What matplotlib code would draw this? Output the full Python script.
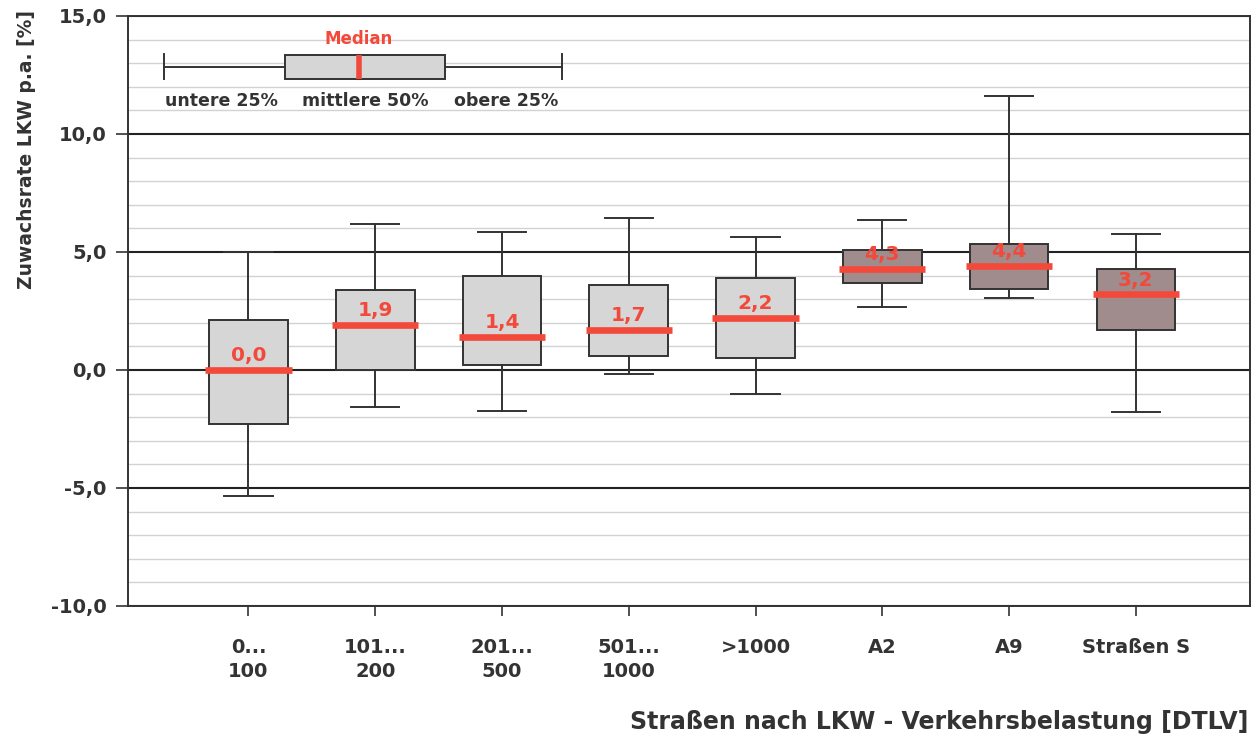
import matplotlib
matplotlib.use("Agg")
import matplotlib.pyplot as plt
from matplotlib.ticker import MultipleLocator

plt.rcParams['font.family'] = ['DejaVu Sans']
plt.rcParams['font.weight'] = 'bold'

# Data
categories = ['0...\n100', '101...\n200', '201...\n500', '501...\n1000', '>1000', 'A2', 'A9', 'Straßen S']
medians = [0.0, 1.9, 1.4, 1.7, 2.2, 4.3, 4.4, 3.2]
median_labels = ['0,0', '1,9', '1,4', '1,7', '2,2', '4,3', '4,4', '3,2']
q1 = [-2.3, 0.0, 0.2, 0.6, 0.5, 3.7, 3.45, 1.7]
q3 = [2.1, 3.4, 4.0, 3.6, 3.9, 5.1, 5.35, 4.3]
whis_lo = [-5.35, -1.55, -1.75, -0.15, -1.0, 2.65, 3.05, -1.8]
whis_hi = [5.0, 6.2, 5.85, 6.45, 5.65, 6.35, 11.6, 5.75]
dark_group = [False, False, False, False, False, True, True, True]

yticks = [-10, -5, 0, 5, 10, 15]
ytick_labels = ['-10,0', '-5,0', '0,0', '5,0', '10,0', '15,0']

# legend example box (percent of the range)
legend_stats = dict(whislo=0, q1=30.4, med=49.0, q3=70.6, whishi=100)

light = '#d6d6d6'
dark = '#a08c8c'
red = '#f2493a'
ink = '#333333'

fig = plt.figure(figsize=(12.58, 7.43), dpi=100)
ax = fig.add_axes([128 / 1258, 1 - 606 / 743, 1122 / 1258, 590 / 743])

stats = []
for i in range(len(categories)):
    stats.append(dict(med=medians[i], q1=q1[i], q3=q3[i],
                      whislo=whis_lo[i], whishi=whis_hi[i], label=categories[i]))

bp = ax.bxp(stats, positions=range(1, len(categories) + 1), widths=0.62,
            capwidths=0.38, showfliers=False, patch_artist=True,
            boxprops=dict(edgecolor=ink, linewidth=1.4),
            whiskerprops=dict(color=ink, linewidth=1.4),
            capprops=dict(color=ink, linewidth=1.4),
            medianprops=dict(color=red, linewidth=4.8, solid_capstyle='butt'))
for patch, is_dark in zip(bp['boxes'], dark_group):
    patch.set_facecolor(dark if is_dark else light)
for line in bp['medians']:
    x = line.get_xdata()
    line.set_xdata([x[0] - 0.03, x[1] + 0.03])

for i, (m, lab) in enumerate(zip(medians, median_labels)):
    ax.annotate(lab, (i + 1, m), xytext=(0, 3.5), textcoords='offset points',
                ha='center', va='bottom', color=red, fontsize=14.5, fontweight='bold')

ax.set_xlim(0.05, 8.9)
ax.set_ylim(-10, 15)
ax.set_yticks(yticks)
ax.set_yticklabels(ytick_labels)
ax.yaxis.set_minor_locator(MultipleLocator(1))
ax.grid(True, which='major', axis='y', color='#222222', linewidth=1.5)
ax.grid(True, which='minor', axis='y', color='#d2d2d2', linewidth=1.0)
ax.set_axisbelow(True)
ax.tick_params(axis='y', which='major', length=8.6, width=1.2, color=ink,
               labelsize=14, labelcolor=ink, pad=7)
ax.tick_params(axis='y', which='minor', length=0)
ax.tick_params(axis='x', which='major', length=7, width=1.2, color=ink,
               labelsize=14, labelcolor=ink, pad=16)
for t in ax.get_xticklabels():
    t.set_linespacing(1.35)
for s in ax.spines.values():
    s.set_color(ink)
    s.set_linewidth(1.4)

ax.set_ylabel('Zuwachsrate LKW p.a. [%]', fontsize=13.5, fontweight='bold', color=ink)
ax.yaxis.set_label_coords(-0.082, 0.773)
fig.text(1248 / 1258, 1 - 722 / 743, 'Straßen nach LKW - Verkehrsbelastung [DTLV]',
         ha='right', va='center', fontsize=17, fontweight='bold', color=ink)

# legend inset
lg = fig.add_axes([142 / 1258, 1 - 120 / 743, 433 / 1258, 104 / 743])
lg.set_facecolor('white')
lb = lg.bxp([legend_stats], positions=[0.51], widths=0.23, capwidths=0.24,
            orientation='horizontal', showfliers=False, patch_artist=True,
            boxprops=dict(edgecolor=ink, linewidth=1.4, facecolor=light),
            whiskerprops=dict(color=ink, linewidth=1.4),
            capprops=dict(color=ink, linewidth=1.4),
            medianprops=dict(color=red, linewidth=4, solid_capstyle='butt'))
lg.set_xlim(-5.5, 103.3)
lg.set_ylim(0, 1)
lg.axis('off')
lg.text(legend_stats['med'], 0.78, 'Median', ha='center', va='center',
        color=red, fontsize=12, fontweight='bold')
lg.text(14.5, 0.18, 'untere 25%', ha='center', va='center', color=ink, fontsize=12.5, fontweight='bold')
lg.text(50.5, 0.18, 'mittlere 50%', ha='center', va='center', color=ink, fontsize=12.5, fontweight='bold')
lg.text(86, 0.18, 'obere 25%', ha='center', va='center', color=ink, fontsize=12.5, fontweight='bold')

fig.savefig('out.png', dpi=100)
